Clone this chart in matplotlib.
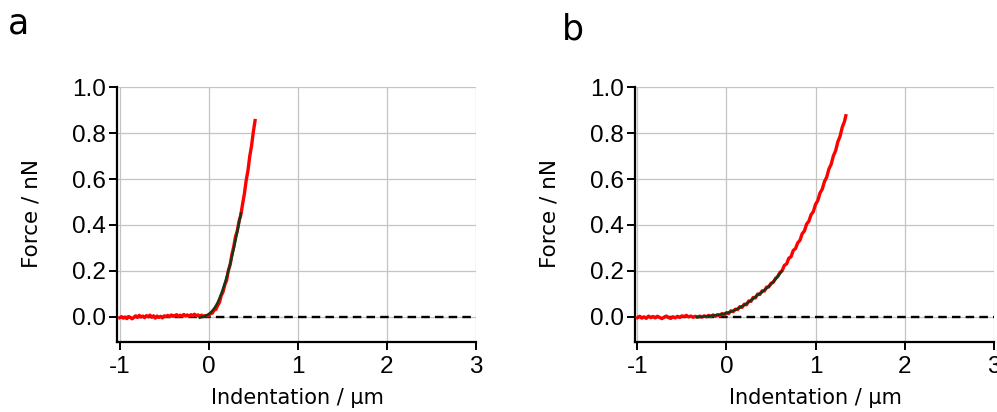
import matplotlib

matplotlib.use("Agg")
import matplotlib.pyplot as plt

# panel a: measured force curve
a_x = [
    -1.00, -0.98, -0.96, -0.94, -0.92, -0.90, -0.88, -0.86, -0.84, -0.82,
    -0.80, -0.78, -0.76, -0.74, -0.72, -0.70, -0.68, -0.66, -0.64, -0.62,
    -0.60, -0.58, -0.56, -0.54, -0.52, -0.50, -0.48, -0.46, -0.44, -0.42,
    -0.40, -0.38, -0.36, -0.34, -0.32, -0.30, -0.28, -0.26, -0.24, -0.22,
    -0.20, -0.18, -0.16, -0.14, -0.12, -0.10, -0.08, -0.06, -0.04, -0.02,
    0.00, 0.02, 0.04, 0.06, 0.08, 0.10, 0.12, 0.14, 0.16, 0.18,
    0.20, 0.22, 0.24, 0.26, 0.28, 0.30, 0.32, 0.34, 0.36, 0.38,
    0.40, 0.42, 0.44, 0.46, 0.48, 0.50, 0.52,
]
a_force = [
    -0.004, 0.000, -0.006, -0.002, -0.008, 0.001, -0.003, -0.009, -0.002, 0.004,
    -0.003, 0.006, -0.001, 0.003, -0.004, 0.005, 0.000, 0.007, -0.002, 0.004,
    -0.006, 0.003, -0.003, 0.002, -0.005, 0.004, 0.001, 0.006, 0.000, 0.008,
    0.002, 0.005, 0.009, 0.001, 0.007, 0.003, 0.010, 0.004, 0.008, 0.002,
    0.009, 0.005, 0.011, 0.004, 0.008, 0.003, 0.007, 0.002, 0.005, 0.003,
    0.006, 0.014, 0.016, 0.029, 0.032, 0.049, 0.062, 0.092, 0.108, 0.139,
    0.158, 0.202, 0.226, 0.272, 0.305, 0.349, 0.374, 0.416, 0.443, 0.492,
    0.536, 0.594, 0.637, 0.699, 0.744, 0.805, 0.855,
]

# panel a: model fit
a_fit_x = [
    -0.10, -0.08, -0.06, -0.04, -0.02, 0.00, 0.02, 0.04, 0.06, 0.08,
    0.10, 0.12, 0.14, 0.16, 0.18, 0.20, 0.22, 0.24, 0.26, 0.28,
    0.30, 0.32, 0.34, 0.36,
]
a_fit_force = [
    -0.004, -0.002, 0.000, 0.003, 0.007, 0.012, 0.018, 0.026, 0.036, 0.048,
    0.062, 0.080, 0.100, 0.122, 0.146, 0.172, 0.200, 0.230, 0.262, 0.296,
    0.332, 0.370, 0.410, 0.450,
]

# panel b: measured force curve
b_x = [
    -1.000, -0.975, -0.950, -0.925, -0.900, -0.875, -0.850, -0.825, -0.800, -0.775,
    -0.750, -0.725, -0.700, -0.675, -0.650, -0.625, -0.600, -0.575, -0.550, -0.525,
    -0.500, -0.475, -0.450, -0.425, -0.400, -0.375, -0.350, -0.325, -0.300, -0.275,
    -0.250, -0.225, -0.200, -0.175, -0.150, -0.125, -0.100, -0.075, -0.050, -0.025,
    0.000, 0.025, 0.050, 0.075, 0.100, 0.125, 0.150, 0.175, 0.200, 0.225,
    0.250, 0.275, 0.300, 0.325, 0.350, 0.375, 0.400, 0.425, 0.450, 0.475,
    0.500, 0.525, 0.550, 0.575, 0.600, 0.625, 0.650, 0.675, 0.700, 0.725,
    0.750, 0.775, 0.800, 0.825, 0.850, 0.875, 0.900, 0.925, 0.950, 0.975,
    1.000, 1.025, 1.050, 1.075, 1.100, 1.125, 1.150, 1.175, 1.200, 1.225,
    1.250, 1.275, 1.300, 1.325, 1.340,
]
b_force = [
    -0.004, 0.002, -0.006, -0.001, -0.007, 0.003, -0.004, 0.001, -0.005, 0.002,
    -0.003, -0.008, -0.002, 0.003, -0.004, -0.007, 0.000, -0.005, 0.002, -0.003,
    0.004, 0.001, 0.006, -0.001, 0.003, -0.002, 0.002, -0.001, 0.003, -0.002,
    0.004, 0.000, 0.006, 0.001, 0.008, 0.002, 0.009, 0.004, 0.014, 0.008,
    0.018, 0.014, 0.026, 0.022, 0.033, 0.031, 0.044, 0.041, 0.055, 0.052,
    0.069, 0.067, 0.084, 0.082, 0.099, 0.097, 0.113, 0.112, 0.129, 0.130,
    0.146, 0.150, 0.167, 0.175, 0.193, 0.201, 0.224, 0.230, 0.255, 0.262,
    0.289, 0.297, 0.322, 0.333, 0.362, 0.374, 0.404, 0.416, 0.445, 0.458,
    0.490, 0.506, 0.539, 0.556, 0.589, 0.608, 0.644, 0.664, 0.701, 0.723,
    0.762, 0.786, 0.826, 0.851, 0.876,
]

# panel b: model fit
b_fit_x = [
    -0.33, -0.30, -0.25, -0.20, -0.15, -0.10, -0.05, 0.00, 0.05, 0.10,
    0.15, 0.20, 0.25, 0.30, 0.35, 0.40, 0.45, 0.50, 0.55, 0.60, 0.62,
]
b_fit_force = [
    -0.002, -0.001, 0.001, 0.003, 0.005, 0.008, 0.011, 0.016, 0.022, 0.030,
    0.040, 0.051, 0.064, 0.079, 0.095, 0.108, 0.124, 0.142, 0.163, 0.188, 0.198,
]

x_ticks = [-1, 0, 1, 2, 3]
y_ticks = [0.0, 0.2, 0.4, 0.6, 0.8, 1.0]

RED = "#ff0000"
FIT = "#163816"
GRID = "#c4c4c4"


def draw_panel(ax, x, force, fit_x, fit_force):
    ax.set_xlim(-1.03, 3.0)
    ax.set_ylim(-0.11, 1.0)
    ax.set_xticks(x_ticks)
    ax.set_yticks(y_ticks)
    ax.set_xticklabels([str(t) for t in x_ticks])
    ax.set_yticklabels([f"{t:.1f}" for t in y_ticks])
    ax.grid(True, color=GRID, linewidth=0.9)
    ax.set_axisbelow(True)
    for side in ("top", "right"):
        ax.spines[side].set_visible(False)
    for side in ("left", "bottom"):
        ax.spines[side].set_linewidth(1.6)
    ax.tick_params(axis="both", direction="out", length=6, width=1.4,
                   labelsize=17.5, colors="black")
    ax.tick_params(axis="x", pad=4)
    ax.tick_params(axis="y", pad=2)
    for lab in ax.get_xticklabels() + ax.get_yticklabels():
        lab.set_fontfamily("Liberation Sans")

    ax.plot([-1.0, 3.0], [0, 0], color="black", linestyle=(0, (3.6, 2.2)),
            linewidth=1.7, zorder=2)
    ax.plot(x, force, color=RED, linewidth=2.4, zorder=3)
    ax.plot(fit_x, fit_force, color=FIT, linewidth=1.8, zorder=4)

    ax.set_xlabel("Indentation / µm", fontsize=15, family="DejaVu Sans")
    ax.set_ylabel("Force / nN", fontsize=15.5, family="DejaVu Sans")
    ax.xaxis.set_label_coords(0.504, -0.18)
    ax.yaxis.set_label_coords(-0.21, 0.506)


fig = plt.figure(figsize=(9.97, 4.12), dpi=100)
ax_a = fig.add_axes([117 / 997, 0.1699, 359 / 997, 0.6182])
ax_b = fig.add_axes([634.7 / 997, 0.1699, 359 / 997, 0.6182])

draw_panel(ax_a, a_x, a_force, a_fit_x, a_fit_force)
draw_panel(ax_b, b_x, b_force, b_fit_x, b_fit_force)

fig.text(8 / 997, 1 - 33 / 412, "a", fontsize=25, family="DejaVu Sans",
         va="baseline", ha="left")
fig.text(562 / 997, 1 - 40 / 412, "b", fontsize=25, family="DejaVu Sans",
         va="baseline", ha="left")

fig.savefig("out.png", dpi=100)
plt.close(fig)
